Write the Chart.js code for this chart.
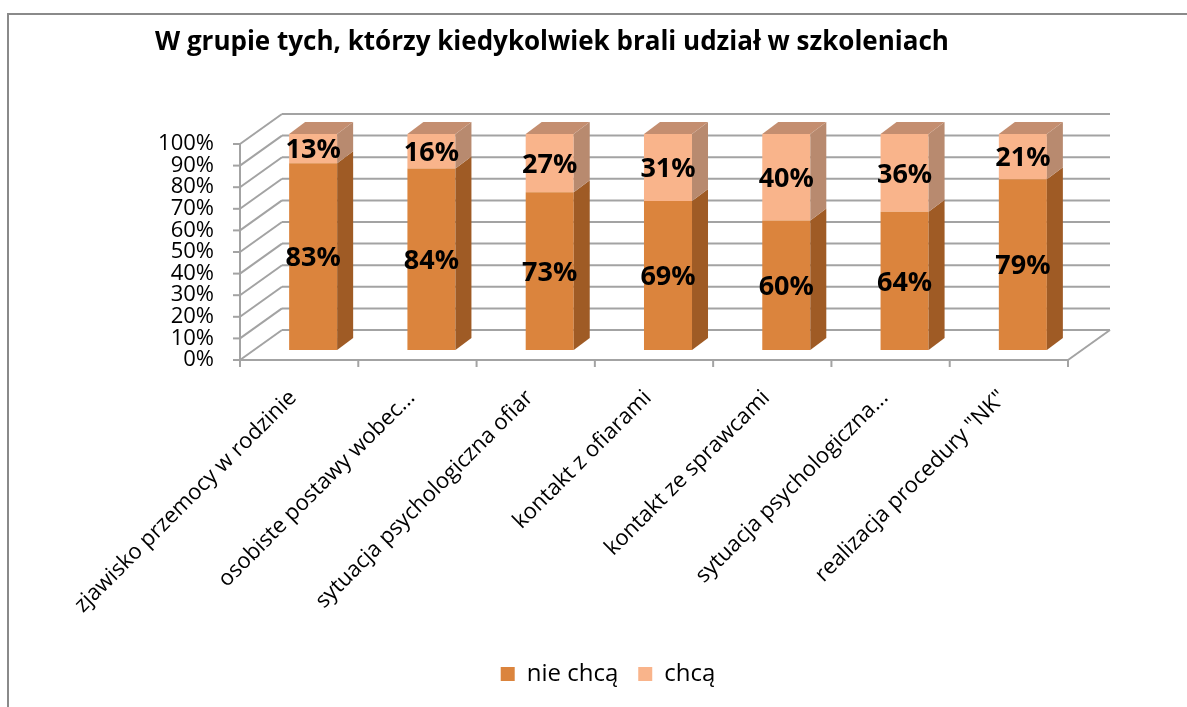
<!DOCTYPE html>
<html>
<head>
<meta charset="utf-8">
<script src="https://cdn.jsdelivr.net/npm/chart.js@4.4.0/dist/chart.umd.min.js"></script>
<style>
  html, body { margin: 0; padding: 0; background: #fff; }
  #wrap { width: 1187px; height: 707px; }
</style>
</head>
<body>
<div id="wrap"><canvas id="myChart1"></canvas></div>
<script>
// data
const categories = [
  'zjawisko przemocy w rodzinie',
  'osobiste postawy wobec...',
  'sytuacja psychologiczna ofiar',
  'kontakt z ofiarami',
  'kontakt ze sprawcami',
  'sytuacja psychologiczna...',
  'realizacja procedury "NK"'
];
const nieChca = [83, 84, 73, 69, 60, 64, 79];
const chca = [13, 16, 27, 31, 40, 36, 21];
const seriesNames = ['nie chcą', 'chcą'];
const titleText = 'W grupie tych, którzy kiedykolwiek brali udział w szkoleniach';

// 100% stacked: share of each bar
const share = (arr, i) => arr[i] / (nieChca[i] + chca[i]) * 100;

const FONT = "'Open Sans', sans-serif";
const GRID = '#a3a3a3';
const FRONT = { dx: -14, dy: 10 };  // front edge of the box, relative to bar plane
const BACK = { dx: 28, dy: -20 };   // back wall
const DEPTH = { dx: 16, dy: -12 };  // bar depth

const colors = {
  dark: { front: '#db843d', side: '#9f5b25' },
  light: { front: '#f9b48b', side: '#b88a6f', top: '#c48e70' }
};

function line(ctx, x1, y1, x2, y2) {
  ctx.beginPath();
  ctx.moveTo(x1, y1);
  ctx.lineTo(x2, y2);
  ctx.stroke();
}

// walls, floor and grid of the 3d box
const walls = {
  id: 'walls',
  beforeDatasetsDraw(chart) {
    const { ctx, chartArea: a, scales: { x, y } } = chart;
    ctx.save();
    ctx.strokeStyle = GRID;
    ctx.lineWidth = 2;
    for (let v = 0; v <= 100; v += 10) {
      const py = y.getPixelForValue(v);
      line(ctx, a.left + BACK.dx, py + BACK.dy, a.right + BACK.dx, py + BACK.dy);
      line(ctx, a.left + FRONT.dx, py + FRONT.dy, a.left + BACK.dx, py + BACK.dy);
      line(ctx, a.left + FRONT.dx - 7, py + FRONT.dy, a.left + FRONT.dx, py + FRONT.dy);
    }
    const y0 = y.getPixelForValue(0);
    const y100 = y.getPixelForValue(100);
    line(ctx, a.left + FRONT.dx, y100 + FRONT.dy, a.left + FRONT.dx, y0 + FRONT.dy);
    line(ctx, a.left + FRONT.dx, y0 + FRONT.dy, a.right + FRONT.dx, y0 + FRONT.dy);
    line(ctx, a.right + FRONT.dx, y0 + FRONT.dy, a.right + BACK.dx, y0 + BACK.dy);
    const step = (a.right - a.left) / categories.length;
    for (let i = 0; i <= categories.length; i++) {
      const px = a.left + i * step + FRONT.dx;
      line(ctx, px, y0 + FRONT.dy, px, y0 + FRONT.dy + 7);
    }
    ctx.restore();
  }
};

// side and top faces of the bars, then value labels
const bars3d = {
  id: 'bars3d',
  afterDatasetsDraw(chart) {
    const { ctx } = chart;
    ctx.save();
    const last = chart.data.datasets.length - 1;
    chart.data.datasets.forEach((ds, di) => {
      chart.getDatasetMeta(di).data.forEach(bar => {
        const { x, y, base, width } = bar.getProps(['x', 'y', 'base', 'width'], true);
        const l = x - width / 2, r = x + width / 2;
        ctx.fillStyle = ds.sideColor;
        ctx.beginPath();
        ctx.moveTo(r, y);
        ctx.lineTo(r + DEPTH.dx, y + DEPTH.dy);
        ctx.lineTo(r + DEPTH.dx, base + DEPTH.dy);
        ctx.lineTo(r, base);
        ctx.closePath();
        ctx.fill();
        if (di === last) {
          ctx.fillStyle = ds.topColor;
          ctx.beginPath();
          ctx.moveTo(l, y);
          ctx.lineTo(r, y);
          ctx.lineTo(r + DEPTH.dx, y + DEPTH.dy);
          ctx.lineTo(l + DEPTH.dx, y + DEPTH.dy);
          ctx.closePath();
          ctx.fill();
        }
      });
    });
    ctx.fillStyle = '#000';
    ctx.font = 'bold 27px ' + FONT;
    ctx.textAlign = 'center';
    ctx.textBaseline = 'middle';
    chart.data.datasets.forEach((ds, di) => {
      chart.getDatasetMeta(di).data.forEach((bar, i) => {
        const { x, y, base } = bar.getProps(['x', 'y', 'base'], true);
        ctx.fillText(ds.raw[i] + '%', x, (y + base) / 2 + 2);
      });
    });
    ctx.restore();
  }
};

// outer frame and title
const frame = {
  id: 'frame',
  afterDraw(chart) {
    const { ctx } = chart;
    ctx.save();
    ctx.strokeStyle = '#8a8a8a';
    ctx.lineWidth = 2;
    ctx.beginPath();
    ctx.moveTo(8, 707);
    ctx.lineTo(8, 14);
    ctx.lineTo(1187, 14);
    ctx.stroke();
    ctx.fillStyle = '#000';
    ctx.font = 'bold 26px ' + FONT;
    ctx.textAlign = 'left';
    ctx.textBaseline = 'alphabetic';
    ctx.fillText(titleText, 155, 50);
    ctx.restore();
  }
};

new Chart(document.getElementById('myChart1'), {
  type: 'bar',
  data: {
    labels: categories,
    datasets: [
      {
        label: seriesNames[0],
        raw: nieChca,
        data: nieChca.map((v, i) => share(nieChca, i)),
        backgroundColor: colors.dark.front,
        sideColor: colors.dark.side,
        topColor: colors.dark.side
      },
      {
        label: seriesNames[1],
        raw: chca,
        data: chca.map((v, i) => share(chca, i)),
        backgroundColor: colors.light.front,
        sideColor: colors.light.side,
        topColor: colors.light.top
      }
    ]
  },
  options: {
    responsive: true,
    maintainAspectRatio: false,
    animation: false,
    layout: { padding: { left: 134, right: 105, top: 134, bottom: 11 } },
    datasets: { bar: { categoryPercentage: 1, barPercentage: 0.406 } },
    scales: {
      x: {
        stacked: true,
        grid: { display: false },
        border: { display: false },
        ticks: {
          maxRotation: 45,
          minRotation: 45,
          autoSkip: false,
          labelOffset: -20,
          padding: 27,
          color: '#000',
          font: { family: FONT, size: 22 }
        },
        afterFit(scale) { scale.height = 292; }
      },
      y: {
        stacked: true,
        min: 0,
        max: 100,
        grid: { display: false, drawTicks: false },
        border: { display: false },
        ticks: {
          stepSize: 10,
          autoSkip: false,
          padding: 40,
          labelOffset: 10,
          color: '#000',
          font: { family: FONT, size: 22 },
          callback: v => v + '%'
        },
        afterFit(scale) { scale.width = 120; }
      }
    },
    plugins: {
      legend: {
        position: 'bottom',
        labels: {
          boxWidth: 14,
          boxHeight: 14,
          padding: 20,
          color: '#000',
          font: { family: FONT, size: 24 }
        }
      },
      title: { display: false },
      tooltip: { enabled: false }
    }
  },
  plugins: [walls, bars3d, frame]
});
</script>
</body>
</html>
